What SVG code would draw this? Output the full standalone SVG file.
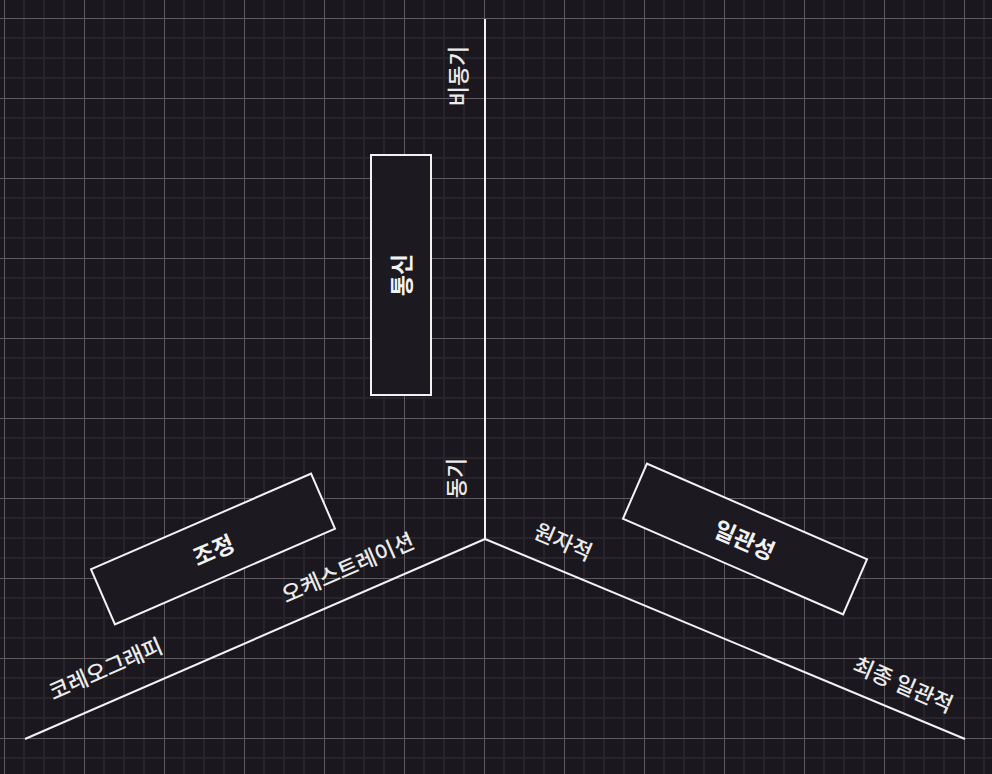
<svg xmlns="http://www.w3.org/2000/svg" width="992" height="774" viewBox="0 0 992 774">
<defs>
<pattern id="grid" x="4" y="18" width="80" height="80" patternUnits="userSpaceOnUse">
<g stroke="#27252b" stroke-width="2">
<line x1="20" y1="0" x2="20" y2="80"/><line x1="40" y1="0" x2="40" y2="80"/><line x1="60" y1="0" x2="60" y2="80"/>
<line x1="0" y1="20" x2="80" y2="20"/><line x1="0" y1="40" x2="80" y2="40"/><line x1="0" y1="60" x2="80" y2="60"/>
</g>
<g stroke="#5d5c61" stroke-width="1">
<line x1="0.5" y1="0" x2="0.5" y2="80"/><line x1="0" y1="0.5" x2="80" y2="0.5"/>
</g>
</pattern>
<style>
.box{fill:#1c1a20;stroke:#f2f2f2;stroke-width:2}
.axis{stroke:#f2f2f2;stroke-width:2;fill:none}
.lbl{font-family:"Noto Sans CJK KR","Noto Sans",sans-serif;font-size:22px;font-weight:500;fill:#ececec;text-anchor:middle;dominant-baseline:central}
.node{font-family:"Noto Sans CJK KR","Noto Sans",sans-serif;font-size:23px;font-weight:bold;fill:#f2f2f2;text-anchor:middle;dominant-baseline:central}
</style>
</defs>
<rect width="992" height="774" fill="#1a181e"/>
<rect width="992" height="774" fill="url(#grid)"/>
<g id="connectors">
<line class="axis" x1="485" y1="19" x2="485" y2="539"/>
<line class="axis" x1="485" y1="539" x2="25" y2="739"/>
<line class="axis" x1="485" y1="539" x2="965" y2="739"/>
</g>
<g id="axis-labels">
<text class="lbl" transform="translate(456,76) rotate(-90)">비동기</text>
<text class="lbl" transform="translate(454,478) rotate(-90)">동기</text>
<text class="lbl" transform="translate(564,540) rotate(23.5)">원자적</text>
<text class="lbl" transform="translate(904,683) rotate(23.5)">최종 일관적</text>
<text class="lbl" transform="translate(347,566) rotate(-23.5)">오케스트레이션</text>
<text class="lbl" transform="translate(105,667) rotate(-23.5)">코레오그래피</text>
</g>
<g id="node-tongsin">
<rect class="box" x="371" y="155" width="60" height="240"/>
<text class="node" transform="translate(400,275) rotate(-90)">통신</text>
</g>
<g id="node-jojeong" transform="translate(213,549) rotate(-23.5)">
<rect class="box" x="-120" y="-30" width="240" height="60"/>
<text class="node" x="0" y="0">조정</text>
</g>
<g id="node-ilgwanseong" transform="translate(745,539) rotate(23.5)">
<rect class="box" x="-120" y="-30" width="240" height="60"/>
<text class="node" x="0" y="0">일관성</text>
</g>
</svg>
